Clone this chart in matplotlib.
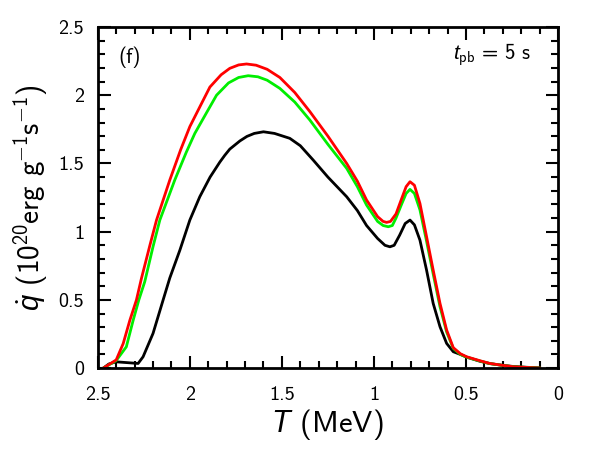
import numpy as np
import matplotlib
matplotlib.use("Agg")
import matplotlib.pyplot as plt
from matplotlib.ticker import MultipleLocator, FuncFormatter

plt.rcParams['font.family'] = ['cmss10', 'DejaVu Sans']
plt.rcParams['mathtext.fontset'] = 'custom'
plt.rcParams['mathtext.rm'] = 'cmss10'
plt.rcParams['mathtext.it'] = 'Liberation Sans:italic'
plt.rcParams['axes.unicode_minus'] = False
plt.rcParams['axes.formatter.use_mathtext'] = True

# temperature (MeV) and heating rate (1e20 erg/g/s)
T_red = [2.47, 2.40, 2.362, 2.326, 2.29, 2.263, 2.217, 2.181, 2.109, 2.05, 2.0, 1.94,
         1.891, 1.83, 1.783, 1.735, 1.692, 1.64, 1.58, 1.511, 1.43, 1.348, 1.25, 1.148,
         1.09, 1.04, 0.98, 0.95, 0.931, 0.91, 0.88, 0.85, 0.825, 0.804, 0.78, 0.75,
         0.714, 0.678, 0.641, 0.605, 0.569, 0.53, 0.496, 0.424, 0.37, 0.30, 0.243, 0.17, 0.1]
q_red = [0.0, 0.06, 0.18, 0.35, 0.5, 0.657, 0.90, 1.085, 1.378, 1.60, 1.77, 1.93,
         2.06, 2.15, 2.197, 2.222, 2.229, 2.22, 2.19, 2.13, 2.02, 1.88, 1.70, 1.50,
         1.37, 1.232, 1.11, 1.075, 1.068, 1.075, 1.13, 1.24, 1.33, 1.366, 1.34, 1.207,
         0.963, 0.718, 0.474, 0.279, 0.150, 0.105, 0.083, 0.054, 0.034, 0.02, 0.01, 0.005, 0.0]

T_green = [2.47, 2.40, 2.345, 2.308, 2.277, 2.245, 2.2, 2.163, 2.082, 2.02, 1.973, 1.91,
           1.855, 1.79, 1.735, 1.683, 1.63, 1.58, 1.511, 1.43, 1.348, 1.25, 1.148, 1.09,
           1.04, 0.98, 0.95, 0.922, 0.90, 0.88, 0.85, 0.825, 0.804, 0.78, 0.75, 0.714,
           0.678, 0.641, 0.605, 0.569, 0.53, 0.496, 0.424, 0.37, 0.30, 0.243, 0.17, 0.1]
q_green = [0.0, 0.055, 0.156, 0.35, 0.5, 0.633, 0.89, 1.085, 1.378, 1.58, 1.72, 1.87,
           2.0, 2.09, 2.13, 2.143, 2.135, 2.11, 2.05, 1.95, 1.818, 1.64, 1.464, 1.33,
           1.195, 1.075, 1.045, 1.036, 1.045, 1.10, 1.20, 1.28, 1.31, 1.28, 1.16, 0.93,
           0.69, 0.45, 0.265, 0.145, 0.10, 0.08, 0.052, 0.033, 0.02, 0.01, 0.005, 0.0]

T_black = [2.47, 2.44, 2.40, 2.34, 2.281, 2.254, 2.2, 2.145, 2.109, 2.054, 2.0, 1.946,
           1.89, 1.837, 1.81, 1.783, 1.728, 1.69, 1.65, 1.60, 1.54, 1.457, 1.40, 1.33,
           1.25, 1.148, 1.09, 1.04, 0.98, 0.94, 0.913, 0.89, 0.86, 0.83, 0.804, 0.78,
           0.75, 0.714, 0.678, 0.641, 0.605, 0.569, 0.53, 0.496, 0.424, 0.37, 0.30,
           0.243, 0.17, 0.1]
q_black = [0.0, 0.03, 0.046, 0.04, 0.034, 0.083, 0.254, 0.5, 0.66, 0.865, 1.085, 1.256,
           1.40, 1.51, 1.56, 1.605, 1.665, 1.698, 1.72, 1.732, 1.72, 1.684, 1.63, 1.525,
           1.40, 1.256, 1.155, 1.045, 0.95, 0.90, 0.889, 0.90, 0.975, 1.06, 1.085, 1.05,
           0.938, 0.718, 0.474, 0.303, 0.181, 0.12, 0.10, 0.08, 0.05, 0.033, 0.02,
           0.012, 0.006, 0.002]

fig = plt.figure(figsize=(6, 4.5), dpi=100)
ax = fig.add_axes([0.163, 0.182, 0.767, 0.758])

ax.plot(T_black, q_black, color='black', lw=2)
ax.plot(T_green, q_green, color='#00ee00', lw=2)
ax.plot(T_red, q_red, color='#ff0000', lw=2)

ax.set_xlim(2.5, 0)
ax.set_ylim(0, 2.5)
ax.xaxis.set_major_locator(MultipleLocator(0.5))
ax.xaxis.set_minor_locator(MultipleLocator(0.1))
ax.yaxis.set_major_locator(MultipleLocator(0.5))
ax.yaxis.set_minor_locator(MultipleLocator(0.1))
fmt = FuncFormatter(lambda v, p: '%g' % v)
ax.xaxis.set_major_formatter(fmt)
ax.yaxis.set_major_formatter(fmt)

ax.tick_params(which='both', direction='in', top=True, right=True, width=1.5, labelsize=14.5)
ax.tick_params(which='major', length=9)
ax.tick_params(which='minor', length=5)
ax.tick_params(axis='x', which='major', pad=13)
ax.tick_params(axis='y', which='major', pad=10)
for s in ax.spines.values():
    s.set_linewidth(2)

ax.set_xlabel(r'$T$ (MeV)', fontsize=22, labelpad=2)
ax.set_ylabel(r'$\dot{q}$ (10$^{20}$erg g$^{-1}$s$^{-1}$)', fontsize=21, labelpad=6)

ax.text(0.07, 0.91, '(f)', transform=ax.transAxes, fontsize=15, ha='center', va='center')
ax.text(0.943, 0.918, r'$t_{\rm pb}$ = 5 s', transform=ax.transAxes, fontsize=15,
        ha='right', va='center')

fig.savefig('out.png', dpi=100)
